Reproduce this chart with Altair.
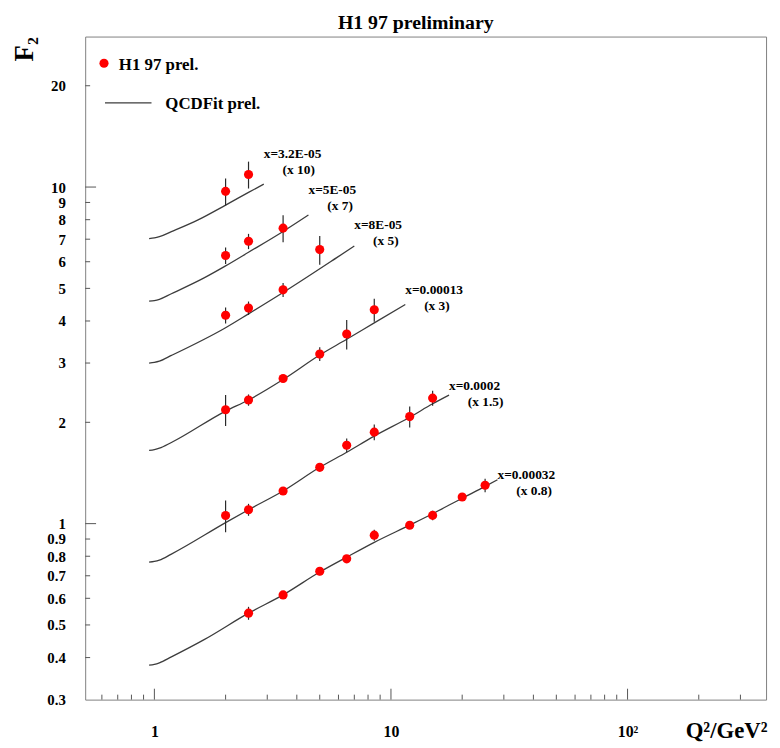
import altair as alt
import pandas as pd

# ---------------- data ----------------
series_x = ["3.2E-05", "5E-05", "8E-05", "0.00013", "0.0002", "0.00032"]
series_mult = ["10", "7", "5", "3", "1.5", "0.8"]

# measured points (Q2, F2 scaled) and errors
q1 = [2.0, 2.5]
f1 = [9.71, 10.9]
e1 = [0.9, 1.0]

q2 = [2.0, 2.5, 3.5]
f2 = [6.26, 6.90, 7.55]
e2 = [0.35, 0.36, 0.70]

q3 = [2.0, 2.5, 3.5, 5.0]
f3 = [4.16, 4.37, 4.95, 6.52]
e3 = [0.23, 0.20, 0.24, 0.64]

q4 = [2.0, 2.5, 3.5, 5.0, 6.5, 8.5]
f4 = [2.18, 2.33, 2.70, 3.19, 3.66, 4.32]
e4 = [0.23, 0.09, 0.07, 0.15, 0.37, 0.34]

q5 = [2.0, 2.5, 3.5, 5.0, 6.5, 8.5, 12.0, 15.0]
f5 = [1.057, 1.10, 1.25, 1.47, 1.71, 1.87, 2.08, 2.36]
e5 = [0.115, 0.045, 0.03, 0.03, 0.08, 0.10, 0.15, 0.12]

q6 = [2.5, 3.5, 5.0, 6.5, 8.5, 12.0, 15.0, 20.0, 25.0]
f6 = [0.542, 0.614, 0.722, 0.786, 0.924, 0.989, 1.058, 1.20, 1.30]
e6 = [0.024, 0.015, 0.02, 0.02, 0.035, 0.02, 0.035, 0.03, 0.06]

# QCD fit curves
cq1 = [0.95, 1.0, 1.05, 1.18, 1.53, 2.0, 2.5, 2.9]
cf1 = [7.03, 7.06, 7.12, 7.37, 7.99, 8.84, 9.64, 10.2]

cq2 = [0.95, 1.0, 1.05, 1.18, 1.63, 2.0, 2.5, 3.5, 4.48]
cf2 = [4.58, 4.60, 4.64, 4.82, 5.38, 5.83, 6.40, 7.38, 8.26]

cq3 = [0.95, 1.0, 1.05, 1.18, 2.0, 2.5, 3.5, 5.9, 7.0]
cf3 = [3.0, 3.015, 3.04, 3.16, 3.82, 4.2, 4.86, 6.17, 6.68]

cq4 = [0.95, 1.0, 1.05, 1.18, 2.0, 2.5, 3.5, 5.0, 6.5, 8.5, 11.5]
cf4 = [1.65, 1.66, 1.675, 1.742, 2.16, 2.33, 2.68, 3.17, 3.53, 3.95, 4.48]

cq5 = [0.95, 1.0, 1.05, 1.18, 2.0, 2.5, 3.5, 5.0, 6.5, 8.5, 12.0, 15.0, 17.6]
cf5 = [0.768, 0.772, 0.779, 0.812, 1.007, 1.10, 1.25, 1.47, 1.63, 1.82, 2.07, 2.27, 2.41]

cq6 = [0.95, 1.0, 1.05, 1.18, 1.63, 2.5, 3.5, 5.0, 6.5, 8.5, 12.0, 15.0, 20.0, 25.0, 28.2]
cf6 = [0.38, 0.382, 0.386, 0.402, 0.453, 0.542, 0.614, 0.718, 0.795, 0.88, 0.99, 1.07, 1.19, 1.29, 1.35]

# annotation anchor (F2 level of each label, placed at curve end in Q2)
label_f2 = [12.5, 9.8, 7.7, 4.95, 2.56, 1.39]

# axis ticks
y_label_values = [0.3, 0.4, 0.5, 0.6, 0.7, 0.8, 0.9, 1, 2, 3, 4, 5, 6, 7, 8, 9, 10, 20]
y_major_ticks = [1, 10]
y_minor_ticks = [0.4, 0.5, 0.6, 0.7, 0.8, 0.9, 2, 3, 4, 5, 6, 7, 8, 9, 20]
x_label_values = [1, 10, 100]
x_major_ticks = [1, 10, 100]
x_minor_ticks = [0.6, 0.7, 0.8, 0.9, 2, 3, 4, 5, 6, 7, 8, 9,
                 20, 30, 40, 50, 60, 70, 80, 90, 200, 300]

# ---------------- tables ----------------
pts_q = [q1, q2, q3, q4, q5, q6]
pts_f = [f1, f2, f3, f4, f5, f6]
pts_e = [e1, e2, e3, e4, e5, e6]
cur_q = [cq1, cq2, cq3, cq4, cq5, cq6]
cur_f = [cf1, cf2, cf3, cf4, cf5, cf6]

prow, crow, lrow = [], [], []
for i, name in enumerate(series_x):
    for q, f, e in zip(pts_q[i], pts_f[i], pts_e[i]):
        prow.append({"series": name, "q": q, "f": f, "lo": f - e, "hi": f + e})
    for j, (q, f) in enumerate(zip(cur_q[i], cur_f[i])):
        crow.append({"series": name, "q": q, "f": f, "idx": j})
    lrow.append({"series": name, "q": cur_q[i][-1], "f": label_f2[i],
                 "line1": "x=" + name, "line2": "(x " + series_mult[i] + ")"})

pts = pd.DataFrame(prow)
cur = pd.DataFrame(crow)
lab = pd.DataFrame(lrow)

SERIF = "Liberation Serif"
xs = alt.Scale(type="log", domain=[0.51, 385], nice=False)
ys = alt.Scale(type="log", domain=[0.3, 28], nice=False)

xaxis = alt.Axis(values=x_label_values, ticks=False, domain=False, grid=False,
                 labelExpr="datum.value == 100 ? '10²' : format(datum.value, 'd')",
                 labelFont=SERIF, labelFontWeight="bold", labelFontSize=16,
                 labelColor="black", labelPadding=24, labelOverlap=False,
                 title="Q²/GeV²", titleFont=SERIF, titleFontWeight="bold",
                 titleFontSize=23, titleColor="black", titleAnchor="end",
                 titleAlign="right", titleBaseline="alphabetic",
                 titleX=689, titleY=38)
yaxis = alt.Axis(values=y_label_values, ticks=False, domain=False, grid=False,
                 labelExpr="datum.value < 1 ? format(datum.value, '.1f') : format(datum.value, 'd')",
                 labelFont=SERIF, labelFontWeight="bold", labelFontSize=15,
                 labelColor="black", labelPadding=20, labelOverlap=False,
                 title="F₂", titleFont=SERIF, titleFontWeight="bold",
                 titleFontSize=27, titleColor="black", titleAngle=270,
                 titleAlign="right", titleBaseline="alphabetic",
                 titleX=-53, titleY=0)

X = lambda f: alt.X(f, scale=xs, axis=xaxis)
Y = lambda f: alt.Y(f, scale=ys, axis=yaxis)

curves = alt.Chart(cur).mark_line(color="#3c3c3c", strokeWidth=1.3,
                                  interpolate="monotone").encode(
    x=X("q:Q"), y=Y("f:Q"), detail="series:N", order="idx:Q",
)

errs = alt.Chart(pts).mark_rule(color="#2a2a2a", strokeWidth=1.2).encode(
    x=X("q:Q"), y=Y("lo:Q"), y2="hi:Q",
)

dots = alt.Chart(pts).mark_circle(size=85, color="#ff0000", opacity=1).encode(
    x=X("q:Q"), y=Y("f:Q"),
)

lab1 = alt.Chart(lab).mark_text(align="left", baseline="middle", font=SERIF,
                                fontSize=13.5, fontWeight="bold", color="black").encode(
    x=X("q:Q"), y=Y("f:Q"), text="line1:N",
)
lab2 = alt.Chart(lab).mark_text(align="left", baseline="middle", font=SERIF,
                                fontSize=13.5, fontWeight="bold", color="black",
                                dx=19, dy=16).encode(
    x=X("q:Q"), y=Y("f:Q"), text="line2:N",
)

tick_col = "#555555"
ymaj = alt.Chart(pd.DataFrame({"f": y_major_ticks})).mark_rule(color=tick_col).encode(
    y=Y("f:Q"), x=alt.value(0), x2=alt.value(11))
ymin = alt.Chart(pd.DataFrame({"f": y_minor_ticks})).mark_rule(color=tick_col).encode(
    y=Y("f:Q"), x=alt.value(0), x2=alt.value(5))
xmaj = alt.Chart(pd.DataFrame({"q": x_major_ticks})).mark_rule(color=tick_col).encode(
    x=X("q:Q"), y=alt.value(670), y2=alt.value(659))
xmin = alt.Chart(pd.DataFrame({"q": x_minor_ticks})).mark_rule(color=tick_col).encode(
    x=X("q:Q"), y=alt.value(670), y2=alt.value(665))

one = alt.Data(values=[{}])
leg_dot = alt.Chart(one).mark_circle(size=85, color="#ff0000", opacity=1).encode(
    x=alt.value(19), y=alt.value(27))
leg_t1 = alt.Chart(one).mark_text(align="left", baseline="middle", font=SERIF,
                                  fontSize=17, fontWeight="bold", color="black",
                                  text="H1 97 prel.").encode(
    x=alt.value(34), y=alt.value(29))
leg_line = alt.Chart(one).mark_rule(color="#3c3c3c", strokeWidth=1.3).encode(
    x=alt.value(20), x2=alt.value(67), y=alt.value(67))
leg_t2 = alt.Chart(one).mark_text(align="left", baseline="middle", font=SERIF,
                                  fontSize=17, fontWeight="bold", color="black",
                                  text="QCDFit prel.").encode(
    x=alt.value(81), y=alt.value(68))

chart = alt.layer(
    curves, errs, dots, lab1, lab2, ymaj, ymin, xmaj, xmin,
    leg_dot, leg_t1, leg_line, leg_t2,
).properties(
    width=688,
    height=670,
    title=alt.TitleParams("H1 97 preliminary", font=SERIF, fontSize=20,
                          fontWeight="bold", color="black", anchor="middle",
                          dx=-10, offset=4),
    autosize=alt.AutoSizeParams(type="none"),
    padding={"left": 78, "top": 25, "right": 6, "bottom": 42},
    background="white",
).configure_view(
    stroke="#808080", strokeWidth=1
)

chart.save("out.html", embed_options={"renderer": "svg", "actions": False})
